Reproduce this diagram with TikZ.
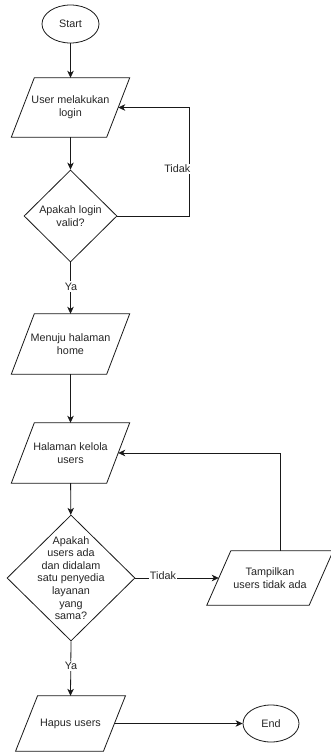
\documentclass[tikz,border=0pt]{standalone}
\usepackage{fontspec}
\setmainfont{Liberation Sans}
\usetikzlibrary{shapes.geometric,arrows.meta,calc}
\newcommand{\parashape}[2]{\draw[shapeline] ($(#1.south west)+(-#2/2,0)$) -- ($(#1.north west)+(#2/2,0)$) -- ($(#1.north east)+(#2/2,0)$) -- ($(#1.south east)+(-#2/2,0)$) -- cycle;}
\begin{document}
\begin{tikzpicture}[x=1pt,y=-1pt,
  every node/.style={font=\fontsize{10.8}{12.6}\selectfont, align=center, text=black!85},
  shapeline/.style={draw=black!90, line width=0.8pt},
  term/.style={ellipse, draw=black!90, line width=0.8pt, inner sep=0pt},
  parabox/.style={rectangle, draw=none, inner sep=0pt},
  dia/.style={diamond, draw=black!90, line width=0.8pt, inner sep=0pt, aspect=1},
  txt/.style={inner sep=0pt},
  arr/.style={draw=black!90, line width=0.8pt, -{Stealth[length=7pt,width=6.5pt,inset=2pt]}},
  lbl/.style={fill=white, inner xsep=1pt, inner ysep=1.5pt}
]
\fill[white] (0,0) rectangle (331,752);
\useasboundingbox (0,0) rectangle (331,752);

% nodes
\node[term, minimum width=57pt, minimum height=38pt] (start) at (70.5,24) {Start};

\node[parabox, minimum width=95pt, minimum height=59pt] (p1) at (70.5,107.5) {User melakukan\\login};
\parashape{p1}{23}

\node[dia, minimum width=93pt, minimum height=92pt] (d1) at (70.5,216) {};
\node[txt] (d1t) at (d1.center) {Apakah login\\valid?};

\node[parabox, minimum width=95pt, minimum height=60pt] (p2) at (70.5,344) {Menuju halaman\\home};
\parashape{p2}{23}

\node[parabox, minimum width=95pt, minimum height=60pt] (p3) at (70.5,453) {Halaman kelola\\users};
\parashape{p3}{23}

\node[dia, minimum width=128pt, minimum height=126pt] (d2) at (71,578) {};
\node[txt] (d2t) at (d2.center) {Apakah\\users ada\\dan didalam\\satu penyedia\\layanan\\yang\\sama?};

\node[parabox, minimum width=102pt, minimum height=54pt] (p4) at (270,578) {Tampilkan\\users tidak ada};
\parashape{p4}{24}

\node[parabox, minimum width=87.5pt, minimum height=55pt] (p5) at (70.5,723.5) {Hapus users};
\parashape{p5}{22}

\node[term, minimum width=56pt, minimum height=37pt] (end) at (271,723.5) {End};

\coordinate (loopx) at (189,0);
\coordinate (retx) at (280,0);

% connectors
\draw[arr] (start) -- (p1);
\draw[arr] (p1) -- (d1);
\draw[arr] (d1.east) -- (d1.east -| loopx) |- (p1.east);
\node[lbl, anchor=east] (t1) at (191.5,169) {Tidak};
\draw[arr] (d1.south) -- (p2.north);
\node[lbl] (y1) at (71,286.5) {Ya};
\draw[arr] (p2) -- (p3);
\draw[arr] (p3) -- (d2);
\draw[arr] (d2.east) -- (d2.east -| p4.west);
\node[lbl] (t2) at (163,575.5) {Tidak};
\draw[arr] (p4.north -| retx) |- (p3.east);
\draw[arr] (d2.south) -- (p5.north);
\node[lbl] (y2) at (71,666) {Ya};
\draw[arr] (p5.east) -- (end.west);
\end{tikzpicture}
\end{document}
